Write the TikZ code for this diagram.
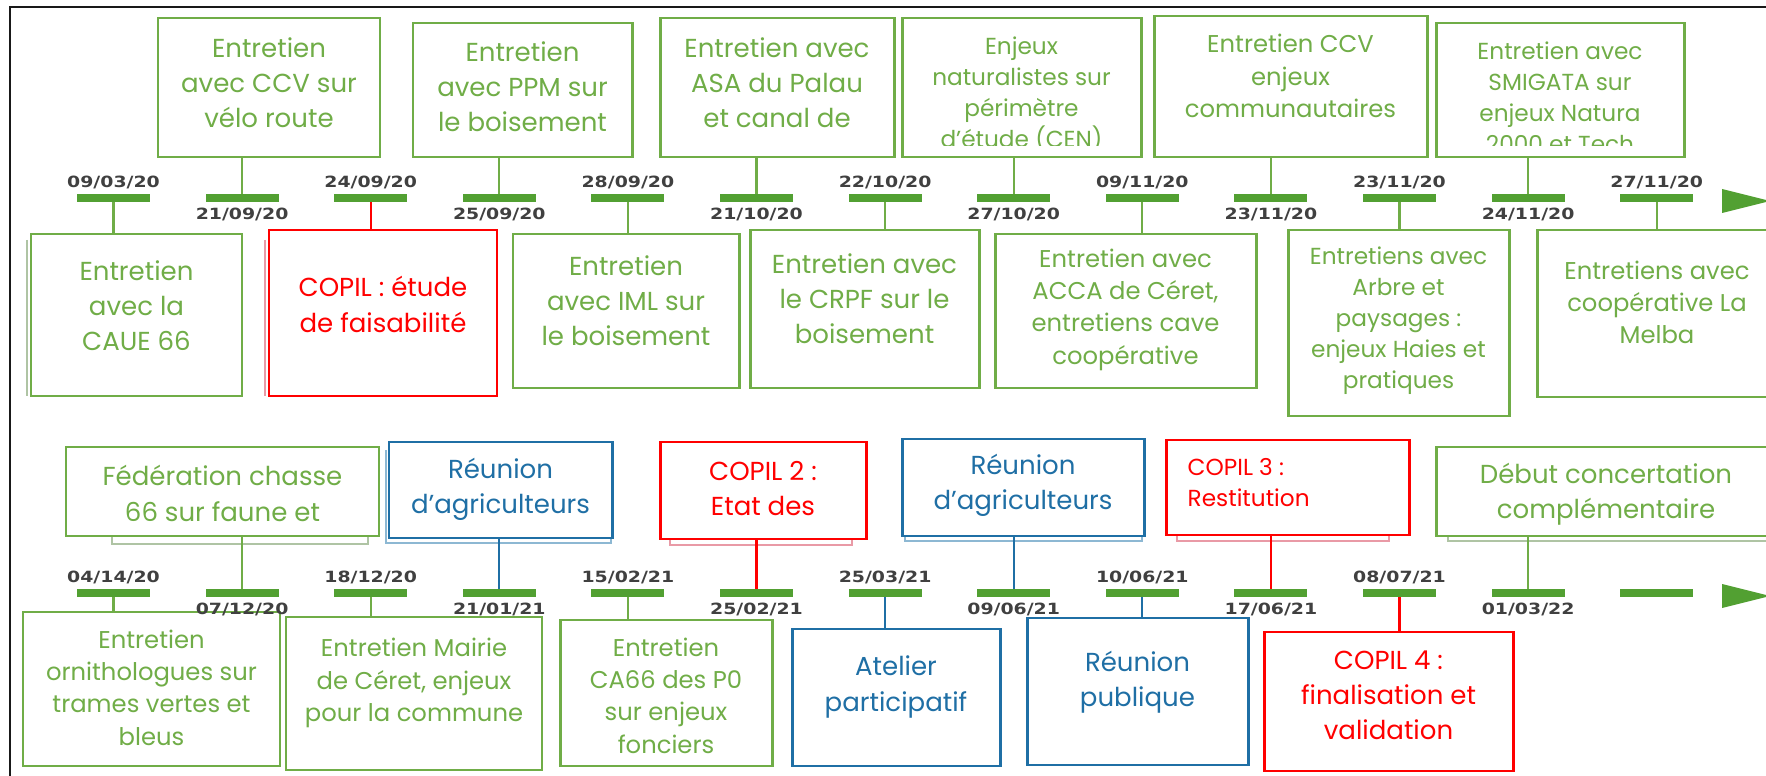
\documentclass[tikz,border=0pt]{standalone}
\usepackage{fontspec}
\setmainfont{Poppins}
\newfontfamily\datefont[FakeStretch=1.22]{DejaVu Sans}
\usetikzlibrary{positioning,fit}

\definecolor{grn}{HTML}{70AD47}
\definecolor{barg}{HTML}{52A032}
\definecolor{blu}{HTML}{1F6FA5}
\definecolor{rd}{HTML}{FF0000}
\definecolor{dategray}{HTML}{404040}
\definecolor{grnl}{HTML}{AFC4A4}
\definecolor{blul}{HTML}{8DB8D3}
\definecolor{rdl}{HTML}{E99AA6}

\tikzset{
  box/.style={draw=#1, line width=0.85pt, inner sep=0pt},
  txt/.style={text=#1, align=center, inner sep=0pt},
  big/.style={font=\fontsize{7.4}{10}\selectfont},
  mid/.style={font=\fontsize{6.9}{9.2}\selectfont},
  sml/.style={font=\fontsize{6.6}{8.8}\selectfont},
  bar/.style={fill=barg, inner sep=0pt, minimum width=0.73cm, minimum height=0.07cm},
  date/.style={font={\datefont\bfseries\fontsize{4.4}{5}\selectfont}, text=dategray, inner sep=0pt},
  link/.style={draw=#1, line width=0.6pt},
  shade/.style={draw=#1, line width=0.6pt}
}

\begin{document}
\begin{tikzpicture}[x=0.01cm, y=-0.01cm]
	\useasboundingbox (0,0) rectangle (1766,776);
	\clip (0,0) rectangle (1766,776);
	\fill[white] (0,0) rectangle (1766,776); % fond blanc
	\draw[line width=0.6pt, black!90] (10,776) -- (10,7) -- (1766,7);
	
	% ombres
	\draw[shade=grnl] (27,240) -- (27,396);
	\draw[shade=rdl] (265,240) -- (265,396);
	\draw[shade=grnl] (112,536) |- (368,544) -- (368,536);
	\draw[shade=blul] (386,450) |- (611,543) -- (611,538);
	\draw[shade=rdl] (670,539) |- (852,545) -- (852,539);
	\draw[shade=blul] (905,536) |- (1142,541) -- (1142,536);
	\draw[shade=rdl] (1177,535) |- (1389,541) -- (1389,535);
	\draw[shade=grnl] (1448,536) |- (1790,541);
	
	% cadres ligne 1
	\node[box=grn, fit={(158,18) (380,157)}] (a1) {};
	\node[box=grn, fit={(413,23) (632,157)}] (a2) {};
	\node[box=grn, fit={(660,18) (894,157)}] (a3) {};
	\node[box=grn, fit={(902,18) (1141,157)}] (a4) {};
	\node[box=grn, fit={(1154,16) (1427,157)}] (a5) {};
	\node[box=grn, fit={(1436,23) (1684,157)}] (a6) {};
	
	\node[box=grn, fit={(31,234) (242,396)}] (b1) {};
	\node[box=rd, fit={(269,230) (497,396)}] (b2) {};
	\node[box=grn, fit={(513,234) (739,388)}] (b3) {};
	\node[box=grn, fit={(750,230) (979,388)}] (b4) {};
	\node[box=grn, fit={(995,234) (1256,388)}] (b5) {};
	\node[box=grn, fit={(1288,230) (1509,416)}] (b6) {};
	\node[box=grn, fit={(1537,230) (1790,397)}] (b7) {};
	
	% cadres ligne 2
	\node[box=grn, fit={(66,447) (379,536)}] (c1) {};
	\node[box=blu, fit={(389,442) (612,538)}] (c2) {};
	\node[box=rd, fit={(660,442) (866,539)}] (c3) {};
	\node[box=blu, fit={(902,439) (1144,536)}] (c4) {};
	\node[box=rd, fit={(1166,440) (1409,535)}] (c5) {};
	\node[box=grn, fit={(1436,447) (1790,536)}] (c6) {};
	
	\node[box=grn, fit={(23,612) (280,766)}] (d1) {};
	\node[box=grn, fit={(286,617) (542,770)}] (d2) {};
	\node[box=grn, fit={(560,620) (772,766)}] (d3) {};
	\node[box=blu, fit={(792,629) (1000,766)}] (d4) {};
	\node[box=blu, fit={(1027,618) (1248,765)}] (d5) {};
	\node[box=rd, fit={(1264,632) (1513,771)}] (d6) {};
	
	% textes
	\node[txt=grn, big] (a1t) at (269,83) {Entretien\\avec CCV sur\\vélo route};
	\node[txt=grn, big] (a2t) at (522.5,87) {Entretien\\avec PPM sur\\le boisement};
	\node[txt=grn, big] (a3t) at (777,83) {Entretien avec\\ASA du Palau\\et canal de};
	\begin{scope}
		\clip (902,18) rectangle (1141,146);
		\node[txt=grn, sml] (a4t) at (1021.5,94) {Enjeux\\naturalistes sur\\périmètre\\d’étude (CEN)};
	\end{scope}
	\node[txt=grn, mid] (a5t) at (1290.5,76) {Entretien CCV\\enjeux\\communautaires};
	\begin{scope}
		\clip (1436,23) rectangle (1684,146);
		\node[txt=grn, sml] (a6t) at (1560,97) {Entretien avec\\SMIGATA sur\\enjeux Natura\\2000 et Tech};
	\end{scope}
	
	\node[txt=grn, big] (b1t) at (136.5,306) {Entretien\\avec la\\CAUE 66};
	\node[txt=rd, big] (b2t) at (383,304.5) {COPIL : étude\\de faisabilité};
	\node[txt=grn, big] (b3t) at (626,301) {Entretien\\avec IML sur\\le boisement};
	\node[txt=grn, big] (b4t) at (864.5,299) {Entretien avec\\le CRPF sur le\\boisement};
	\node[txt=grn, mid] (b5t) at (1125.5,309.5) {Entretien avec\\ACCA de Céret,\\entretiens cave\\coopérative};
	\node[txt=grn, sml] (b6t) at (1398.5,320.5) {Entretiens avec\\Arbre et\\paysages :\\enjeux Haies et\\pratiques};
	\node[txt=grn, mid] (b7t) at (1657,302.5) {Entretiens avec\\coopérative La\\Melba};
	
	\node[txt=grn, big] (c1t) at (222.5,493.5) {Fédération chasse\\66 sur faune et};
	\node[txt=blu, big] (c2t) at (500.5,489.5) {Réunion\\d’agriculteurs};
	\node[txt=rd, big] (c3t) at (763,488.5) {COPIL 2 :\\Etat des};
	\node[txt=blu, big] (c4t) at (1023,485.5) {Réunion\\d’agriculteurs};
	\node[txt=rd, sml, align=left, anchor=west] (c5t) at (1187,483) {COPIL 3 :\\Restitution};
	\node[txt=grn, big] (c6t) at (1606,494.5) {Début concertation\\complémentaire};
	
	\node[txt=grn, mid] (d1t) at (151.5,687.5) {Entretien\\ornithologues sur\\trames vertes et\\bleus};
	\node[txt=grn, mid] (d2t) at (414,683) {Entretien Mairie\\de Céret, enjeux\\pour la commune};
	\node[txt=grn, mid] (d3t) at (666,695.5) {Entretien\\CA66 des P0\\sur enjeux\\fonciers};
	\node[txt=blu, big] (d4t) at (896,687) {Atelier\\participatif};
	\node[txt=blu, big] (d5t) at (1137.5,682) {Réunion\\publique};
	\node[txt=rd, big] (d6t) at (1388.5,695.5) {COPIL 4 :\\finalisation et\\validation};
	
	% frise 1
	\node[bar] (p0) at (113.5,198) {};  \node[date, above=1.1pt of p0] (p0d) {09/03/20};
	\node[bar] (p1) at (242.1,198) {};  \node[date, below=1.4pt of p1] (p1d) {21/09/20};
	\node[bar] (p2) at (370.7,198) {};  \node[date, above=1.1pt of p2] (p2d) {24/09/20};
	\node[bar] (p3) at (499.3,198) {};  \node[date, below=1.4pt of p3] (p3d) {25/09/20};
	\node[bar] (p4) at (627.9,198) {};  \node[date, above=1.1pt of p4] (p4d) {28/09/20};
	\node[bar] (p5) at (756.5,198) {};  \node[date, below=1.4pt of p5] (p5d) {21/10/20};
	\node[bar] (p6) at (885.1,198) {};  \node[date, above=1.1pt of p6] (p6d) {22/10/20};
	\node[bar] (p7) at (1013.7,198) {}; \node[date, below=1.4pt of p7] (p7d) {27/10/20};
	\node[bar] (p8) at (1142.3,198) {}; \node[date, above=1.1pt of p8] (p8d) {09/11/20};
	\node[bar] (p9) at (1270.9,198) {}; \node[date, below=1.4pt of p9] (p9d) {23/11/20};
	\node[bar] (p10) at (1399.5,198) {}; \node[date, above=1.1pt of p10] (p10d) {23/11/20};
	\node[bar] (p11) at (1528.1,198) {}; \node[date, below=1.4pt of p11] (p11d) {24/11/20};
	\node[bar] (p12) at (1656.7,198) {}; \node[date, above=1.1pt of p12] (p12d) {27/11/20};
	\fill[barg] (1722,189) -- (1770,201) -- (1722,213) -- cycle;
	
	\draw[link=grn] (p0.south) -- (p0.south |- b1.north);
	\draw[link=grn] (p1.north) -- (p1.north |- a1.south);
	\draw[link=rd] (p2.south) -- (p2.south |- b2.north);
	\draw[link=grn] (p3.north) -- (p3.north |- a2.south);
	\draw[link=grn] (p4.south) -- (p4.south |- b3.north);
	\draw[link=grn] (p5.north) -- (p5.north |- a3.south);
	\draw[link=grn] (p6.south) -- (p6.south |- b4.north);
	\draw[link=grn] (p7.north) -- (p7.north |- a4.south);
	\draw[link=grn] (p8.south) -- (p8.south |- b5.north);
	\draw[link=grn] (p9.north) -- (p9.north |- a5.south);
	\draw[link=grn] (p10.south) -- (p10.south |- b6.north);
	\draw[link=grn] (p11.north) -- (p11.north |- a6.south);
	\draw[link=grn] (p12.south) -- (p12.south |- b7.north);
	
	% frise 2
	\node[bar] (q0) at (113.5,593) {};  \node[date, above=1.1pt of q0] (q0d) {04/14/20};
	\node[bar] (q1) at (242.1,593) {};  \node[date, below=1.4pt of q1] (q1d) {07/12/20};
	\node[bar] (q2) at (370.7,593) {};  \node[date, above=1.1pt of q2] (q2d) {18/12/20};
	\node[bar] (q3) at (499.3,593) {};  \node[date, below=1.4pt of q3] (q3d) {21/01/21};
	\node[bar] (q4) at (627.9,593) {};  \node[date, above=1.1pt of q4] (q4d) {15/02/21};
	\node[bar] (q5) at (756.5,593) {};  \node[date, below=1.4pt of q5] (q5d) {25/02/21};
	\node[bar] (q6) at (885.1,593) {};  \node[date, above=1.1pt of q6] (q6d) {25/03/21};
	\node[bar] (q7) at (1013.7,593) {}; \node[date, below=1.4pt of q7] (q7d) {09/06/21};
	\node[bar] (q8) at (1142.3,593) {}; \node[date, above=1.1pt of q8] (q8d) {10/06/21};
	\node[bar] (q9) at (1270.9,593) {}; \node[date, below=1.4pt of q9] (q9d) {17/06/21};
	\node[bar] (q10) at (1399.5,593) {}; \node[date, above=1.1pt of q10] (q10d) {08/07/21};
	\node[bar] (q11) at (1528.1,593) {}; \node[date, below=1.4pt of q11] (q11d) {01/03/22};
	\node[bar] (q12) at (1656.7,593) {};
	\fill[barg] (1722,584) -- (1770,596) -- (1722,608) -- cycle;
	
	\draw[link=grn] (q0.south) -- (q0.south |- d1.north);
	\draw[link=grn] (q1.north) -- (q1.north |- c1.south);
	\draw[link=grn] (q2.south) -- (q2.south |- d2.north);
	\draw[link=blu] (q3.north) -- (q3.north |- c2.south);
	\draw[link=grn] (q4.south) -- (q4.south |- d3.north);
	\draw[link=rd] (q5.north) -- (q5.north |- c3.south);
	\draw[link=blu] (q6.south) -- (q6.south |- d4.north);
	\draw[link=blu] (q7.north) -- (q7.north |- c4.south);
	\draw[link=blu] (q8.south) -- (q8.south |- d5.north);
	\draw[link=rd] (q9.north) -- (q9.north |- c5.south);
	\draw[link=rd] (q10.south) -- (q10.south |- d6.north);
	\draw[link=grn] (q11.north) -- (q11.north |- c6.south);
	
	%\draw[help lines] (0,0) grid[step=100] (1766,776);
\end{tikzpicture}
\end{document}
